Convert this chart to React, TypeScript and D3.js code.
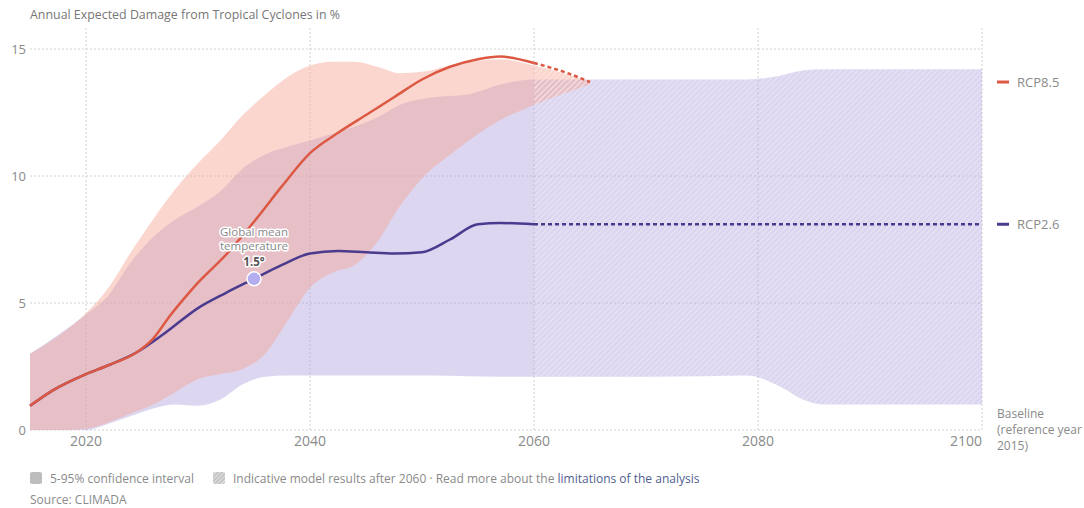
import React from "react"
import * as d3 from "d3"

// RCP8.5 median (red)
const rcp85Years = [2015, 2017, 2020, 2022, 2024.5, 2026, 2027.5, 2029, 2030, 2032.5, 2035, 2037.5, 2040, 2042.5, 2045, 2047.5, 2050, 2052.5, 2055, 2057, 2060, 2063, 2065]
const rcp85Values = [0.95, 1.55, 2.2, 2.55, 3.05, 3.6, 4.5, 5.3, 5.8, 6.9, 8.2, 9.6, 10.9, 11.7, 12.4, 13.1, 13.8, 14.3, 14.6, 14.7, 14.45, 14.05, 13.7]

// RCP2.6 median (purple)
const rcp26Years = [2015, 2017, 2020, 2022, 2024.5, 2027, 2030, 2032.5, 2035, 2037.5, 2040, 2042.5, 2045, 2047.5, 2050, 2052.5, 2055, 2057, 2060, 2070, 2080, 2090, 2100]
const rcp26Values = [0.95, 1.55, 2.2, 2.55, 3.05, 3.8, 4.8, 5.4, 5.95, 6.5, 6.95, 7.05, 7.0, 6.95, 7.0, 7.5, 8.1, 8.15, 8.1, 8.1, 8.1, 8.1, 8.1]

// 5-95% confidence intervals
const band85Years = [2015, 2018, 2020, 2022, 2024, 2026, 2028, 2030, 2032, 2034, 2036, 2038, 2040, 2042, 2044, 2046, 2048, 2050, 2053, 2057, 2060, 2063, 2065]
const band85Upper = [3.0, 3.85, 4.6, 5.6, 7.0, 8.3, 9.5, 10.5, 11.4, 12.4, 13.2, 13.9, 14.35, 14.5, 14.5, 14.3, 14.05, 14.1, 14.4, 14.6, 14.35, 14.0, 13.7]
const band85Lower = [0, 0, 0.05, 0.3, 0.65, 1.0, 1.5, 2.0, 2.2, 2.4, 3.0, 4.3, 5.6, 6.2, 6.5, 7.4, 8.8, 9.9, 11.0, 12.2, 12.8, 13.3, 13.6]

const band26Years = [2015, 2018, 2020, 2022, 2024, 2026, 2028, 2030, 2032, 2034, 2036, 2038, 2040, 2043, 2046, 2048, 2051, 2054, 2057, 2060, 2065, 2070, 2075, 2079, 2082, 2084, 2086, 2090, 2095, 2100]
const band26Upper = [3.0, 3.9, 4.55, 5.3, 6.6, 7.6, 8.3, 8.8, 9.4, 10.3, 10.85, 11.15, 11.4, 11.8, 12.3, 12.8, 13.1, 13.2, 13.6, 13.8, 13.8, 13.8, 13.8, 13.8, 13.95, 14.15, 14.2, 14.2, 14.2, 14.2]
const band26Lower = [0, 0, 0, 0.25, 0.55, 0.85, 1.0, 0.95, 1.2, 1.8, 2.1, 2.15, 2.15, 2.15, 2.15, 2.15, 2.15, 2.12, 2.1, 2.1, 2.1, 2.1, 2.12, 2.15, 1.7, 1.2, 1.0, 1.0, 1.0, 1.0]

const xTicks = [2020, 2040, 2060, 2080, 2100]
const yTicks = [0, 5, 10, 15]
const modelCutoff = 2060
const markerYear = 2035
const markerValue = 5.95

const font = "'Open Sans', 'Noto Sans', sans-serif"
const red = "#dc5843"
const purple = "#4a3b8f"
const gray = "#8a8a8a"

export default function App() {
  const x = d3.scaleLinear().domain([2015, 2100]).range([30, 982])
  const y = d3.scaleLinear().domain([0, 15]).range([430, 49])

  const line = d3
    .line<[number, number]>()
    .x((d) => x(d[0]))
    .y((d) => y(d[1]))
    .curve(d3.curveMonotoneX)

  const area = d3
    .area<[number, number, number]>()
    .x((d) => x(d[0]))
    .y0((d) => y(d[1]))
    .y1((d) => y(d[2]))
    .curve(d3.curveMonotoneX)

  const b85 = band85Years.map((yr, i) => [yr, band85Lower[i], band85Upper[i]] as [number, number, number])
  const b26 = band26Years.map((yr, i) => [yr, band26Lower[i], band26Upper[i]] as [number, number, number])
  const r85 = rcp85Years.map((yr, i) => [yr, rcp85Values[i]] as [number, number])
  const r26 = rcp26Years.map((yr, i) => [yr, rcp26Values[i]] as [number, number])

  const r85Last = r85[r85.length - 1]
  const r26Last = r26[r26.length - 1]

  return (
    <svg width={1084} height={508} style={{ position: "absolute", left: 0, top: 0, background: "#fff" }}>
      <defs>
        <pattern id="hatch" width={4} height={4} patternUnits="userSpaceOnUse" patternTransform="rotate(45)">
          <line x1={0} y1={0} x2={0} y2={4} stroke="#ffffff" strokeWidth={1.4} strokeOpacity={0.5} />
        </pattern>
        <pattern id="hatchLegend" width={3} height={3} patternUnits="userSpaceOnUse" patternTransform="rotate(45)">
          <rect width={3} height={3} fill="#c4c4c4" />
          <line x1={0} y1={0} x2={0} y2={3} stroke="#ffffff" strokeWidth={1} />
        </pattern>
        <clipPath id="after">
          <rect x={x(modelCutoff)} y={0} width={x(2100) - x(modelCutoff)} height={508} />
        </clipPath>
      </defs>

      <text x={30} y={19} fontFamily={font} fontSize={12.4} fill="#777">
        Annual Expected Damage from Tropical Cyclones in %
      </text>

      {/* grid */}
      <g stroke="#d2d2d2" strokeWidth={1} strokeDasharray="2,2">
        {yTicks.map((t) => (
          <line key={t} x1={30} x2={982} y1={y(t)} y2={y(t)} />
        ))}
        {xTicks.map((t) => (
          <line key={t} x1={x(t)} x2={x(t)} y1={28} y2={430} />
        ))}
      </g>

      {/* bands: purple first, red on top gives the pink overlap */}
      <path d={area(b26) || ""} fill="#a999d9" fillOpacity={0.4} />
      <path d={area(b85) || ""} fill="#f5a394" fillOpacity={0.45} />
      <g clipPath="url(#after)">
        <path d={area(b26) || ""} fill="url(#hatch)" />
        <path d={area(b85) || ""} fill="url(#hatch)" />
      </g>

      {/* lines */}
      <path d={line(r26.filter((d) => d[0] <= modelCutoff)) || ""} fill="none" stroke={purple} strokeWidth={2.5} />
      <path
        d={line(r26.filter((d) => d[0] >= modelCutoff)) || ""}
        fill="none"
        stroke={purple}
        strokeWidth={2.5}
        strokeDasharray="4,3"
      />
      <path d={line(r85.filter((d) => d[0] <= modelCutoff)) || ""} fill="none" stroke={red} strokeWidth={2.5} />
      <path
        d={line(r85.filter((d) => d[0] >= modelCutoff)) || ""}
        fill="none"
        stroke={red}
        strokeWidth={2.5}
        strokeDasharray="4,3"
      />

      {/* 1.5 degree marker */}
      <circle cx={x(markerYear)} cy={y(markerValue)} r={7} fill="#b4aef0" stroke="#fff" strokeWidth={1.5} />
      <g
        fontFamily={font}
        textAnchor="middle"
        stroke="#fff"
        strokeWidth={3}
        strokeLinejoin="round"
        style={{ paintOrder: "stroke" }}
      >
        <text x={x(markerYear)} y={y(markerValue) - 43} fontSize={11.5} fill="#888">
          Global mean
        </text>
        <text x={x(markerYear)} y={y(markerValue) - 29} fontSize={11.5} fill="#888">
          temperature
        </text>
        <text x={x(markerYear)} y={y(markerValue) - 13} fontSize={11.5} fontWeight="bold" fill="#555">
          1.5°
        </text>
      </g>

      {/* axes labels */}
      {yTicks.map((t) => (
        <text key={t} x={26} y={y(t)} dy="0.35em" textAnchor="end" fontFamily={font} fontSize={13} fill={gray}>
          {t}
        </text>
      ))}
      {xTicks.map((t, i) => (
        <text
          key={t}
          x={x(t)}
          y={446}
          textAnchor={i === xTicks.length - 1 ? "end" : "middle"}
          fontFamily={font}
          fontSize={14}
          fill={gray}
        >
          {t}
        </text>
      ))}

      {/* series labels */}
      <line x1={997} x2={1009} y1={y(r85Last[1])} y2={y(r85Last[1])} stroke={red} strokeWidth={3} />
      <text x={1017} y={y(r85Last[1])} dy="0.35em" fontFamily={font} fontSize={13} fill={gray}>
        RCP8.5
      </text>
      <line x1={997} x2={1009} y1={y(r26Last[1])} y2={y(r26Last[1])} stroke={purple} strokeWidth={3} />
      <text x={1017} y={y(r26Last[1])} dy="0.35em" fontFamily={font} fontSize={13} fill={gray}>
        RCP2.6
      </text>
      <g fontFamily={font} fontSize={12} fill={gray}>
        <text x={997} y={418}>Baseline</text>
        <text x={997} y={434}>(reference year</text>
        <text x={997} y={450}>2015)</text>
      </g>

      {/* legend */}
      <rect x={30} y={472} width={12} height={12} rx={2} fill="#bdbdbd" />
      <text x={50} y={483} fontFamily={font} fontSize={12} fill={gray}>
        5-95% confidence interval
      </text>
      <rect x={213} y={472} width={12} height={12} rx={2} fill="url(#hatchLegend)" />
      <text x={233} y={483} fontFamily={font} fontSize={12} fill={gray}>
        Indicative model results after 2060 · Read more about the{" "}
        <tspan fill="#4f5f8f">limitations of the analysis</tspan>
      </text>
      <text x={30} y={504} fontFamily={font} fontSize={12} fill={gray}>
        Source: CLIMADA
      </text>
    </svg>
  )
}
